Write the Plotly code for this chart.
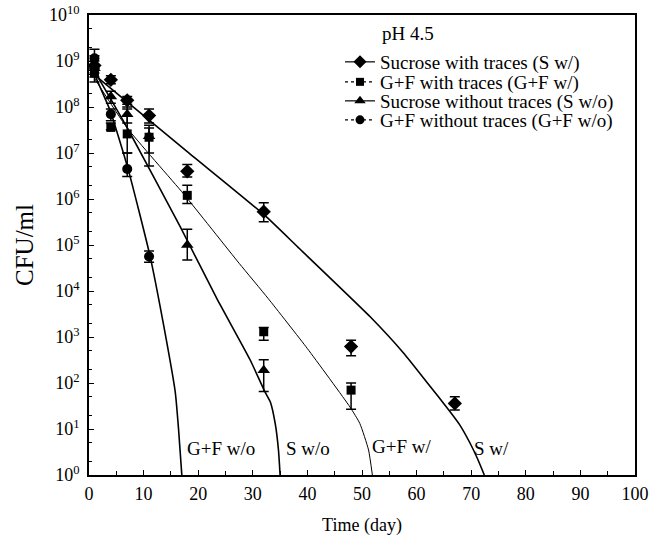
import plotly.graph_objects as go

# ---------------- data ----------------
# measured points
sw_days = [1, 4, 7, 11, 18, 32, 48, 67]
sw_vals = [8.0e8, 3.9e8, 1.4e8, 6.5e7, 4.0e6, 5.3e5, 6.2e2, 3.6e1]
sw_upper = [1.3e9, 4.8e8, 1.7e8, 9.0e7, 5.6e6, 8.3e5, 8.5e2, 5.0e1]
sw_lower = [5.5e8, 3.2e8, 1.15e8, 4.5e7, 3.0e6, 3.2e5, 3.9e2, 2.6e1]

gfw_days = [1, 4, 7, 11, 18, 32, 48]
gfw_vals = [5.5e8, 3.6e7, 2.6e7, 2.2e7, 1.2e6, 1.3e3, 7.0e1]
gfw_upper = [7.0e8, 4.5e7, 9.0e7, 4.0e7, 2.0e6, 1.6e3, 1.0e2]
gfw_lower = [3.5e8, 3.2e7, 1.0e7, 1.0e7, 8.0e5, 8.5e2, 2.7e1]

swo_days = [1, 4, 7, 11, 18, 32]
swo_vals = [7.0e8, 1.7e8, 7.0e7, 2.3e7, 1.0e5, 1.9e2]
swo_upper = [1.0e9, 2.2e8, 1.0e8, 3.5e7, 2.2e5, 3.2e2]
swo_lower = [4.5e8, 1.2e8, 4.5e7, 5.2e6, 4.7e4, 6.5e1]

gfwo_days = [1, 4, 7, 11]
gfwo_vals = [1.15e9, 7.0e7, 4.5e6, 5.6e4]
gfwo_upper = [1.8e9, 9.0e7, 1.0e7, 7.4e4]
gfwo_lower = [7.0e8, 5.0e7, 3.1e6, 4.2e4]

# fitted curves
sw_fit_days = [1, 17.6, 32.1, 38.3, 51.5, 57.6, 61.8, 66.1, 67.9, 69.8, 71.2, 72.4]
sw_fit_vals = [5.0e8, 1.17e7, 4.5e5, 8.9e4, 2.75e3, 4.5e2, 1.07e2, 2.4e1, 1.23e1, 4.9, 2.2, 1.0]

gfw_fit_days = [1, 7, 17.3, 27.5, 32.8, 40, 47.8, 49.6, 51.2, 51.9]
gfw_fit_vals = [4.2e8, 3.5e7, 1.3e6, 4.0e4, 6.9e3, 5.6e2, 30, 13.2, 3.5, 1.0]

swo_fit_days = [1, 7.2, 16.7, 23.4, 29.5, 32.2, 33.2, 34.1, 34.7, 35.0]
swo_fit_vals = [6.0e8, 3.2e7, 2.5e5, 6.9e3, 3.2e2, 65, 39, 13.2, 3.5, 1.0]

gfwo_fit_days = [1, 2, 3.85, 7.2, 11.2, 13.6, 15.8, 16.4, 17.0]
gfwo_fit_vals = [5.2e8, 2.75e8, 8.5e7, 4.3e6, 5.6e4, 2.0e3, 63, 10, 1.0]

series_names = ["Sucrose with traces (S w/)", "G+F with traces (G+F w/)",
                "Sucrose without traces (S w/o)", "G+F without traces (G+F w/o)"]
legend_title = "pH 4.5"
curve_labels = ["S w/", "G+F w/", "S w/o", "G+F w/o"]
curve_label_days = [73.8, 57.2, 40.1, 24.2]
curve_label_logy = [0.58, 0.62, 0.58, 0.58]

x_tickvals = [0, 10, 20, 30, 40, 50, 60, 70, 80, 90, 100]
y_tickvals = [1, 1e1, 1e2, 1e3, 1e4, 1e5, 1e6, 1e7, 1e8, 1e9, 1e10]
y_ticktext = ["10<sup>%d</sup>" % i for i in range(11)]

# ---------------- layout / styles ----------------
W, H = 659, 537
PL, PR, PT, PB = 89, 635, 15, 475   # plot area in pixels


def px_x(px):
    return (px - PL) / (PR - PL)


def px_y(py):
    return 1 - (py - PT) / (PB - PT)


FONT = "Liberation Serif, Times New Roman, serif"
symbols = ["diamond", "square", "triangle-up", "circle"]
msizes = [11, 9, 11, 10]
fit_widths = [1.6, 1.0, 1.6, 1.6]
legend_dash = ["solid", "dot", "solid", "dot"]
legend_ids = ["legend", "legend2", "legend3", "legend4"]
legend_rows_px = [62, 82, 101, 120]
legend_left_px = 340

points = [
    (sw_days, sw_vals, sw_upper, sw_lower),
    (gfw_days, gfw_vals, gfw_upper, gfw_lower),
    (swo_days, swo_vals, swo_upper, swo_lower),
    (gfwo_days, gfwo_vals, gfwo_upper, gfwo_lower),
]
fits = [
    (sw_fit_days, sw_fit_vals),
    (gfw_fit_days, gfw_fit_vals),
    (swo_fit_days, swo_fit_vals),
    (gfwo_fit_days, gfwo_fit_vals),
]

fig = go.Figure()

# fitted lines
for (fx, fy), w in zip(fits, fit_widths):
    fig.add_trace(go.Scatter(x=fx, y=fy, mode="lines",
                             line=dict(color="black", width=w, shape="spline", smoothing=0.5),
                             showlegend=False, hoverinfo="skip"))

# data points with error bars
for (dx, dy, up, lo), sym, ms in zip(points, symbols, msizes):
    plus = [u - v for u, v in zip(up, dy)]
    minus = [v - l for v, l in zip(dy, lo)]
    fig.add_trace(go.Scatter(
        x=dx, y=dy, mode="markers",
        marker=dict(symbol=sym, size=ms, color="black"),
        error_y=dict(type="data", symmetric=False, array=plus, arrayminus=minus,
                     color="black", thickness=1.5, width=5),
        showlegend=False))

# legend-only entries, each in its own legend for exact row spacing
for name, sym, ms, dash, lid in zip(series_names, symbols, msizes, legend_dash, legend_ids):
    fig.add_trace(go.Scatter(
        x=[None], y=[None], mode="lines+markers", name=name, legend=lid,
        marker=dict(symbol=sym, size=ms - 1, color="black"),
        line=dict(color="black", width=1.2, dash=dash)))

legend_layout = {}
for lid, row in zip(legend_ids, legend_rows_px):
    legend_layout[lid] = dict(
        x=px_x(legend_left_px), y=px_y(row), xanchor="left", yanchor="middle",
        bgcolor="rgba(0,0,0,0)", borderwidth=0,
        font=dict(family=FONT, size=19, color="black"), itemwidth=30)

# curve labels
for txt, xd, yl in zip(curve_labels, curve_label_days, curve_label_logy):
    fig.add_annotation(x=xd, y=yl, xref="x", yref="y", text=txt, showarrow=False,
                       font=dict(family=FONT, size=19, color="black"))

# legend title
fig.add_annotation(x=px_x(380), y=px_y(33), xref="paper", yref="paper",
                   text=legend_title, showarrow=False,
                   font=dict(family=FONT, size=19, color="black"),
                   xanchor="left", yanchor="middle")

fig.update_layout(
    width=W, height=H,
    margin=dict(l=PL, r=W - PR, t=PT, b=H - PB, autoexpand=False),
    paper_bgcolor="white", plot_bgcolor="white",
    font=dict(family=FONT, size=18, color="black"),
    showlegend=True,
    **legend_layout,
)

fig.update_xaxes(
    range=[0, 100], tickvals=x_tickvals, automargin=False, ticklabeloverflow="allow",
    showline=True, linecolor="black", linewidth=1.5, mirror=True,
    ticks="inside", ticklen=5, tickcolor="black",
    minor=dict(dtick=5, ticks="inside", ticklen=4, tickcolor="black"),
    showgrid=False, zeroline=False,
    tickfont=dict(family=FONT, size=18), ticklabelstandoff=2,
    title=dict(text="Time (day)", font=dict(family=FONT, size=18), standoff=15),
)
fig.update_yaxes(
    type="log", range=[0, 10], tickvals=y_tickvals, ticktext=y_ticktext, automargin=False,
    ticklabeloverflow="allow",
    showline=True, linecolor="black", linewidth=1.5, mirror=True,
    ticks="inside", ticklen=5, tickcolor="black",
    minor=dict(ticks="inside", ticklen=3, tickcolor="black", showgrid=False),
    showgrid=False, zeroline=False,
    tickfont=dict(family=FONT, size=18), ticklabelstandoff=4,
    title=dict(text="CFU/ml", font=dict(family=FONT, size=25), standoff=8),
)

# remove the default 8 px page margin so the figure fills the window exactly
fig.write_html("out.html", config={"displayModeBar": False},
               post_script="document.body.style.margin='0';")
